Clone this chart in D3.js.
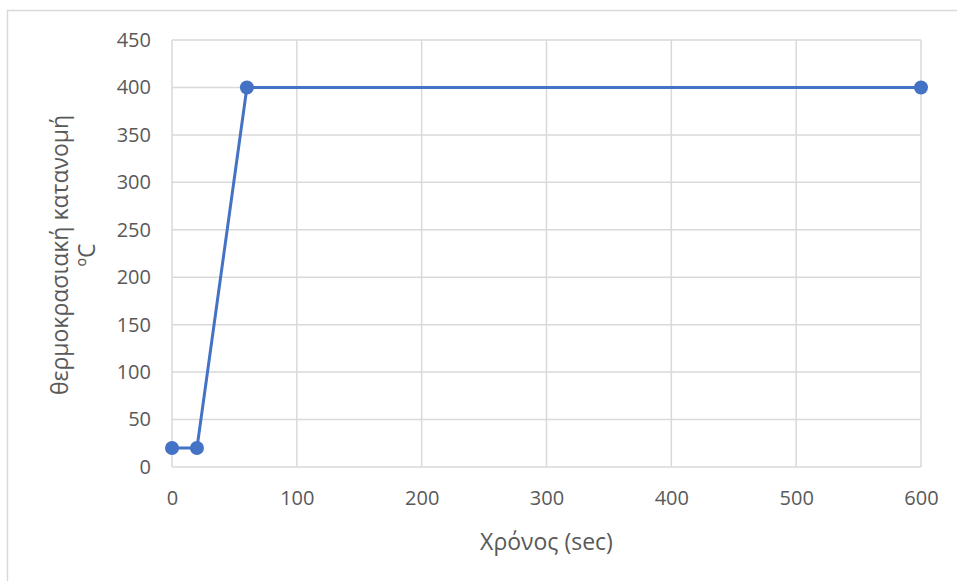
<!DOCTYPE html>
<html><head><meta charset="utf-8">
<script src="https://cdn.jsdelivr.net/npm/d3@7"></script>
<style>body{margin:0;background:#fff;} text{font-family:"Open Sans","Noto Sans",sans-serif;fill:#595959;}</style>
</head><body>
<svg id="c" width="957" height="581"></svg>
<script>
const times = [0, 20, 60, 600];
const temps = [20, 20, 400, 400];
const xTicks = [0, 100, 200, 300, 400, 500, 600];
const yTicks = [0, 50, 100, 150, 200, 250, 300, 350, 400, 450];
const xTitle = "Χρόνος (sec)";
const yTitle = ["θερμοκρασιακή κατανομή", "ºC"];

const svg = d3.select("#c");
svg.append("rect").attr("x", 7.5).attr("y", 10.5).attr("width", 960).attr("height", 600)
  .attr("fill", "#fff").attr("stroke", "#d9d9d9").attr("stroke-width", 1.5);

const x = d3.scaleLinear().domain([0, 600]).range([172, 921]);
const y = d3.scaleLinear().domain([0, 450]).range([467, 40]);

const grid = svg.append("g").attr("stroke", "#d9d9d9").attr("stroke-width", 1.5);
grid.selectAll(".h").data(yTicks).enter().append("line")
  .attr("x1", x(0)).attr("x2", x(600)).attr("y1", d => y(d)).attr("y2", d => y(d));
grid.selectAll(".v").data(xTicks).enter().append("line")
  .attr("y1", y(0)).attr("y2", y(450)).attr("x1", d => x(d)).attr("x2", d => x(d));

const xAxis = svg.append("g").attr("transform", `translate(0,${y(0)})`)
  .call(d3.axisBottom(x).tickValues(xTicks).tickSize(0).tickPadding(24));
xAxis.select(".domain").remove();
xAxis.selectAll("text").style("font-size", "20px").attr("fill", "#595959");

const yAxis = svg.append("g").attr("transform", `translate(${x(0)},0)`)
  .call(d3.axisLeft(y).tickValues(yTicks).tickSize(0).tickPadding(21));
yAxis.select(".domain").remove();
yAxis.selectAll("text").style("font-size", "20px").attr("fill", "#595959");

svg.append("text").attr("x", (x(0) + x(600)) / 2).attr("y", 550).attr("text-anchor", "middle")
  .style("font-size", "23px").text(xTitle);

const yt = svg.append("text").attr("transform", "translate(68,255) rotate(-90)").attr("text-anchor", "middle")
  .style("font-size", "23px");
yt.append("tspan").attr("x", 0).attr("y", 0).text(yTitle[0]);
yt.append("tspan").attr("x", 0).attr("y", 27).text(yTitle[1]);

const pts = times.map((t, i) => [t, temps[i]]);
svg.append("path").datum(pts).attr("fill", "none").attr("stroke", "#4472c4").attr("stroke-width", 3)
  .attr("d", d3.line().x(d => x(d[0])).y(d => y(d[1])));
svg.selectAll(".pt").data(pts).enter().append("circle")
  .attr("cx", d => x(d[0])).attr("cy", d => y(d[1])).attr("r", 7).attr("fill", "#4472c4");
</script>
</body></html>
